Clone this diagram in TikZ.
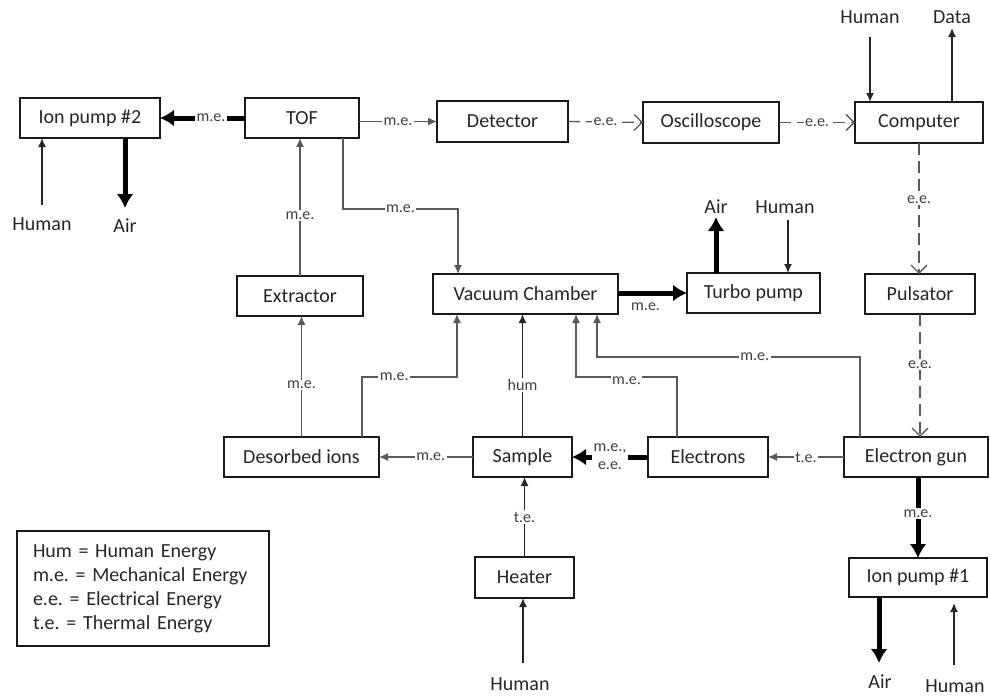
\documentclass[tikz,border=0pt]{standalone}
\usepackage{fontspec}
\setmainfont{Carlito}
\usetikzlibrary{arrows.meta,calc}
\frenchspacing
\begin{document}
\begin{tikzpicture}[x=1pt,y=-1pt,
 box/.style={draw=black!90, line width=1.6pt, inner sep=0pt, outer sep=0pt, font=\fontsize{20}{24}\selectfont, text=black!85},
 lbl/.style={fill=white, inner sep=1.5pt, font=\fontsize{16}{18}\selectfont, text=black!75},
 outtxt/.style={inner sep=0pt, font=\fontsize{20}{24}\selectfont, text=black!85},
 thinarr/.style={draw=black!65, line width=1.3pt, -{Latex[length=9pt,width=8pt]}},
 thinblk/.style={draw=black!85, line width=1.5pt, -{Latex[length=9pt,width=8pt]}},
 thickarr/.style={draw=black, line width=5pt, -{Latex[length=14pt,width=17pt]}},
 dasharr/.style={draw=black!65, line width=1.3pt, dash pattern=on 12pt off 6pt, -{Straight Barb[length=8pt,width=16pt]}},
]
\useasboundingbox (0,0) rectangle (990,696);
% boxes
\node[box, minimum width=140pt, minimum height=40pt] (ip2) at (90,118) {Ion pump \#2};
\node[box, minimum width=114pt, minimum height=40pt] (tof) at (302,118) {TOF};
\node[box, minimum width=131pt, minimum height=41pt] (det) at (502.5,121.5) {Detector};
\node[box, minimum width=136pt, minimum height=41pt] (osc) at (711,122.5) {Oscilloscope};
\node[box, minimum width=128pt, minimum height=41pt] (comp) at (919,122.5) {Computer};
\node[box, minimum width=185pt, minimum height=40pt] (vac) at (525.5,294) {Vacuum Chamber};
\node[box, minimum width=133pt, minimum height=40pt] (turbo) at (753.5,293) {Turbo pump};
\node[box, minimum width=110pt, minimum height=40pt] (puls) at (920,294) {Pulsator};
\node[box, minimum width=126pt, minimum height=40pt] (extr) at (300,296) {Extractor};
\node[box, minimum width=155pt, minimum height=40pt] (des) at (301.5,457) {Desorbed ions};
\node[box, minimum width=99pt, minimum height=40pt] (samp) at (522.5,457) {Sample};
\node[box, minimum width=120pt, minimum height=40pt] (elec) at (708,457) {Electrons};
\node[box, minimum width=144pt, minimum height=40pt] (egun) at (916,457) {Electron gun};
\node[box, minimum width=99pt, minimum height=41pt] (heat) at (524.5,577.5) {Heater};
\node[box, minimum width=138pt, minimum height=39pt] (ip1) at (918,577.5) {Ion pump \#1};
\node[box, minimum width=252pt, minimum height=115pt, anchor=north west, align=left, text width=220pt, inner xsep=16pt] (legend) at (17,531) {Hum = Human Energy\\m.e. = Mechanical Energy\\e.e. = Electrical Energy\\t.e. = Thermal Energy};
% outside texts
\node[outtxt] (humc) at (870,17) {Human};
\node[outtxt] (datac) at (952,17) {Data};
\node[outtxt] (hum2) at (42,224) {Human};
\node[outtxt] (air2) at (125,226) {Air};
\node[outtxt] (airt) at (716,207) {Air};
\node[outtxt] (humt) at (785,207) {Human};
\node[outtxt] (humh) at (520,684) {Human};
\node[outtxt] (air1) at (880,682) {Air};
\node[outtxt] (hum1) at (955,686) {Human};
\coordinate (humcA) at (870,37);
\coordinate (hum2A) at (42,205);
\coordinate (humtA) at (788,220);
\coordinate (humhA) at (523,663);
\coordinate (hum1A) at (954,665);
\coordinate (datacA) at (952,28);
\coordinate (air2A) at (125,208);
\coordinate (airtA) at (716,217);
\coordinate (air1A) at (879,663);
% top row
\draw[thickarr] (tof.west) -- (ip2.east) node[lbl, pos=0.4] {m.e.};
\draw[thinarr] (tof.east |- det.west) -- (det.west) node[lbl, midway] {m.e.};
\draw[dasharr] (det.east) -- (osc.west) node[lbl, midway] {e.e.};
\draw[dasharr] (osc.east) -- (comp.west) node[lbl, midway] {e.e.};
\draw[thinblk] (humcA) -- (humcA |- comp.north);
\draw[thinblk] (comp.north -| datacA) -- (datacA);
\draw[thinblk] (hum2A) -- (hum2A |- ip2.south);
\draw[thickarr] (ip2.south -| air2A) -- (air2A);
% right column
\draw[dasharr] (comp.south) -- (comp.south |- puls.north) node[lbl, pos=0.43] {e.e.};
\draw[dasharr] (puls.south) -- (puls.south |- egun.north) node[lbl, pos=0.41] {e.e.};
\draw[thickarr] (ip1.north |- egun.south) -- (ip1.north) node[lbl, pos=0.45] {m.e.};
\draw[thickarr] (ip1.south -| air1A) -- (air1A);
\draw[thinblk, shorten >=6pt] (hum1A) -- (hum1A |- ip1.south);
% turbo
\draw[thickarr] (vac.east |- turbo.west) -- (turbo.west) node[pos=0.4, below=7pt, inner sep=0pt, font=\fontsize{16}{18}\selectfont, text=black!75] {m.e.};
\draw[thickarr] (turbo.north -| airtA) -- (airtA);
\draw[thinblk] (humtA) -- (humtA |- turbo.north);
% middle
\draw[thinarr] (extr.north) -- (extr.north |- tof.south) node[lbl, pos=0.44] {m.e.};
\draw[thinarr] ([xshift=41pt]tof.south) |- ([xshift=-67.5pt,yshift=65pt]vac.north) node[lbl, pos=0.75] {m.e.} -- ([xshift=-67.5pt]vac.north);
\draw[thinarr] (des.north) -- (des.north |- extr.south) node[lbl, pos=0.43] {m.e.};
\draw[thinarr] ([xshift=60.5pt]des.north) |- ([xshift=-68.5pt,yshift=-63pt]vac.south) node[lbl, pos=0.67] {m.e.} -- ([xshift=-68.5pt]vac.south);
\draw[thinblk] (samp.north) -- (samp.north |- vac.south) node[lbl, pos=0.42] {hum};
\draw[thinarr] ([xshift=-31pt]elec.north) |- ([xshift=50.5pt,yshift=-63pt]vac.south) node[lbl, pos=0.75, yshift=-4pt] {m.e.} -- ([xshift=50.5pt]vac.south);
\draw[thinarr] ([xshift=-56pt]egun.north) |- ([xshift=71.5pt,yshift=-43pt]vac.south) node[lbl, pos=0.7] {m.e.} -- ([xshift=71.5pt]vac.south);
% bottom row
\draw[thinarr] (egun.west) -- (elec.east) node[lbl, midway] {t.e.};
\draw[thickarr] (elec.west) -- (samp.east) node[lbl, midway, align=center, font=\fontsize{16}{18}\selectfont] {m.e.,\\e.e.};
\draw[thinarr] (samp.west) -- (des.east) node[lbl, pos=0.45] {m.e.};
\draw[thinblk] (heat.north) -- (heat.north |- samp.south) node[lbl, midway] {t.e.};
\draw[thinblk] (humhA) -- (humhA |- heat.south);
\end{tikzpicture}
\end{document}
